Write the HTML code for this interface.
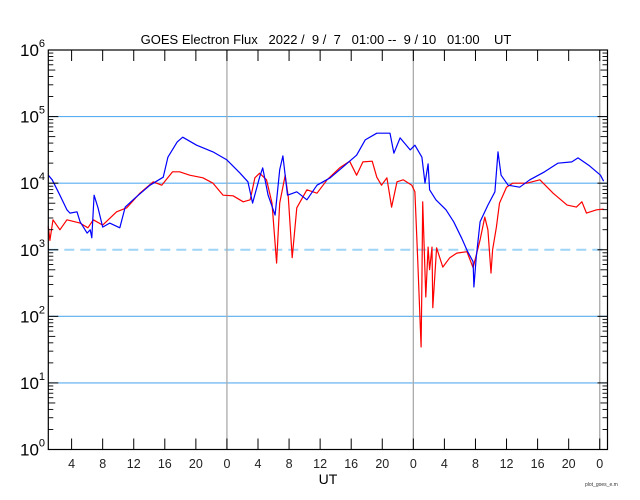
<!DOCTYPE html>
<html><head><meta charset="utf-8"><style>
body{margin:0;background:#fff;}
svg{display:block;font-family:"Liberation Sans",sans-serif;}
#title{white-space:pre;}
</style></head><body>
<svg id="chart" width="640" height="500" viewBox="0 0 640 500" xmlns="http://www.w3.org/2000/svg">
<text id="title" xml:space="preserve" x="326" y="44" font-size="13" text-anchor="middle" fill="#000">GOES Electron Flux   2022 /  9 /  7   01:00 --  9 / 10   01:00    UT</text>
<g id="grid"></g><g id="series"></g><g id="axes"></g>
<text x="328" y="484" font-size="14" text-anchor="middle">UT</text>
<text x="585" y="486" font-size="5" fill="#333">plot_goes_e.m</text>
</svg>
<script>
const blueHours=[0,0.5,1.5,2.4,2.8,3.7,4.1,5.0,5.4,5.6,5.9,6.4,7.0,7.9,9.2,9.9,11.2,13.1,14.8,15.4,16.6,17.3,19.1,21.2,23.0,24.7,25.7,26.3,27.2,27.6,28.3,29.2,29.8,30.2,30.8,32.0,33.3,34.6,36.3,37.9,39.7,40.8,42.3,44.0,44.5,45.3,46.6,47.2,48.1,48.5,48.9,49.1,49.9,51.2,52.2,53.2,54.0,54.7,54.8,55.1,55.6,56.6,57.5,57.9,58.3,59.2,60.7,62.0,63.9,65.6,67.4,68.2,69.7,71.1,71.5];
const blueLogFlux=[4.12,4.05,3.82,3.60,3.55,3.57,3.42,3.25,3.30,3.18,3.82,3.63,3.34,3.40,3.33,3.64,3.78,3.97,4.09,4.39,4.62,4.69,4.57,4.47,4.35,4.15,4.02,3.70,4.09,4.23,3.82,3.52,4.20,4.41,3.82,3.87,3.75,3.97,4.08,4.24,4.42,4.65,4.75,4.75,4.45,4.68,4.50,4.57,4.39,4.00,4.29,3.90,3.75,3.60,3.42,3.18,2.97,2.82,2.44,2.88,3.42,3.67,3.87,4.47,4.12,3.97,3.94,4.05,4.17,4.30,4.32,4.38,4.26,4.12,4.03];
const redHours=[0,0.2,0.6,1.5,2.4,4.1,5.1,5.8,7.0,8.8,10.1,11.8,13.5,14.6,16.0,16.9,18.2,19.9,21.2,22.5,23.8,25.1,26.0,26.6,27.2,28.1,28.8,29.4,29.8,30.5,30.9,31.4,32.0,33.3,34.6,35.9,37.5,38.8,39.7,40.5,41.7,42.3,42.9,43.6,44.2,44.9,45.7,46.8,47.2,47.5,47.6,48.0,48.1,48.2,48.6,48.9,49.1,49.4,49.5,50.0,50.8,51.7,52.6,53.9,54.7,55.6,56.2,56.6,57.0,57.2,57.7,58.1,59.0,59.8,61.6,63.3,65.0,66.8,68.0,68.7,69.3,70.6,71.5];
const redLogFlux=[3.35,3.14,3.45,3.30,3.45,3.40,3.33,3.45,3.37,3.57,3.63,3.85,4.02,3.97,4.17,4.17,4.12,4.08,4.00,3.82,3.81,3.72,3.75,4.08,4.15,4.05,3.70,2.80,3.70,4.12,3.79,2.88,3.63,3.90,3.85,4.05,4.23,4.33,4.12,4.32,4.33,4.09,3.97,4.08,3.64,4.02,4.05,3.97,3.87,3.04,2.74,1.54,2.50,3.72,2.29,3.04,2.70,3.04,2.13,3.03,2.74,2.88,2.95,2.97,2.73,3.15,3.49,3.30,2.65,3.00,3.34,3.70,3.94,4.00,4.00,4.05,3.85,3.67,3.64,3.72,3.55,3.60,3.61];
const yDecades=[0,1,2,3,4,5,6];
const xTickLabels=["4","8","12","16","20","0","4","8","12","16","20","0","4","8","12","16","20","0"];

const NS="http://www.w3.org/2000/svg";
const X0=48.3,X1=607.5,Y0=449.5,Y1=50,HOURS=72;
function xScale(h){return X0+h*(X1-X0)/HOURS;}
function yScale(l){return Y0-l*(Y0-Y1)/6;}
function mk(tag,attrs,parent){const e=document.createElementNS(NS,tag);for(const k in attrs)e.setAttribute(k,attrs[k]);parent.appendChild(e);return e;}
const grid=document.getElementById('grid'),series=document.getElementById('series'),axes=document.getElementById('axes');

[1,2,4,5].forEach(d=>{
  const l=mk('line',{x1:X0,x2:X1,y1:yScale(d),y2:yScale(d),stroke:'#5aaef0','stroke-width':1.2},grid);
  
  
});
const dl=mk('line',{x1:X0,x2:X1,y1:yScale(3),y2:yScale(3),stroke:'#9ed4f7','stroke-width':2,'stroke-dasharray':'10 6'},grid);


[23,47,71].forEach(h=>{
  const l=mk('line',{x1:xScale(h),x2:xScale(h),y1:Y1,y2:Y0,stroke:'#aaaaaa','stroke-width':1.3},grid);
  
  
});

function path(hs,vs,color,name){
  let d='';
  for(let i=0;i<hs.length;i++){d+=(i?'L':'M')+xScale(hs[i]).toFixed(1)+','+yScale(vs[i]).toFixed(1);}
  const p=mk('path',{d:d,fill:'none',stroke:color,'stroke-width':1.2,'stroke-linejoin':'round'},series);
  
  
}
path(redHours,redLogFlux,'#ff0000','series-red-flux');
path(blueHours,blueLogFlux,'#0000ff','series-blue-flux');

const fr=mk('rect',{x:X0,y:Y1,width:X1-X0,height:Y0-Y1,fill:'none',stroke:'#000','stroke-width':1.2},axes);



yDecades.forEach(d=>{
  const y=yScale(d);
  mk('line',{x1:X0,x2:X0+10,y1:y,y2:y,stroke:'#000'},axes);
  mk('line',{x1:X1,x2:X1-10,y1:y,y2:y,stroke:'#000'},axes);
  const t=mk('text',{x:20,y:y+6,'font-size':17,fill:'#000'},axes);
  t.textContent='10';
  
  
  const s=mk('tspan',{dy:-9,'font-size':11},t);
  s.textContent=String(d);
  if(d<6){for(let m=2;m<=9;m++){
    const ym=yScale(d+Math.log10(m));
    const len=(m===5)?7:5;
    mk('line',{x1:X0,x2:X0+len,y1:ym,y2:ym,stroke:'#000','stroke-width':0.9},axes);
    mk('line',{x1:X1,x2:X1-len,y1:ym,y2:ym,stroke:'#000','stroke-width':0.9},axes);
  }}
});
xTickLabels.forEach((lab,i)=>{
  const h=3+4*i, x=xScale(h);
  mk('line',{x1:x,x2:x,y1:Y0,y2:Y0-11,stroke:'#000'},axes);
  mk('line',{x1:x,x2:x,y1:Y1,y2:Y1+11,stroke:'#000'},axes);
  const t=mk('text',{x:x,y:468,'font-size':12.5,'text-anchor':'middle',fill:'#222'},axes);
  t.textContent=lab;
  
  
});
</script>
</body></html>
